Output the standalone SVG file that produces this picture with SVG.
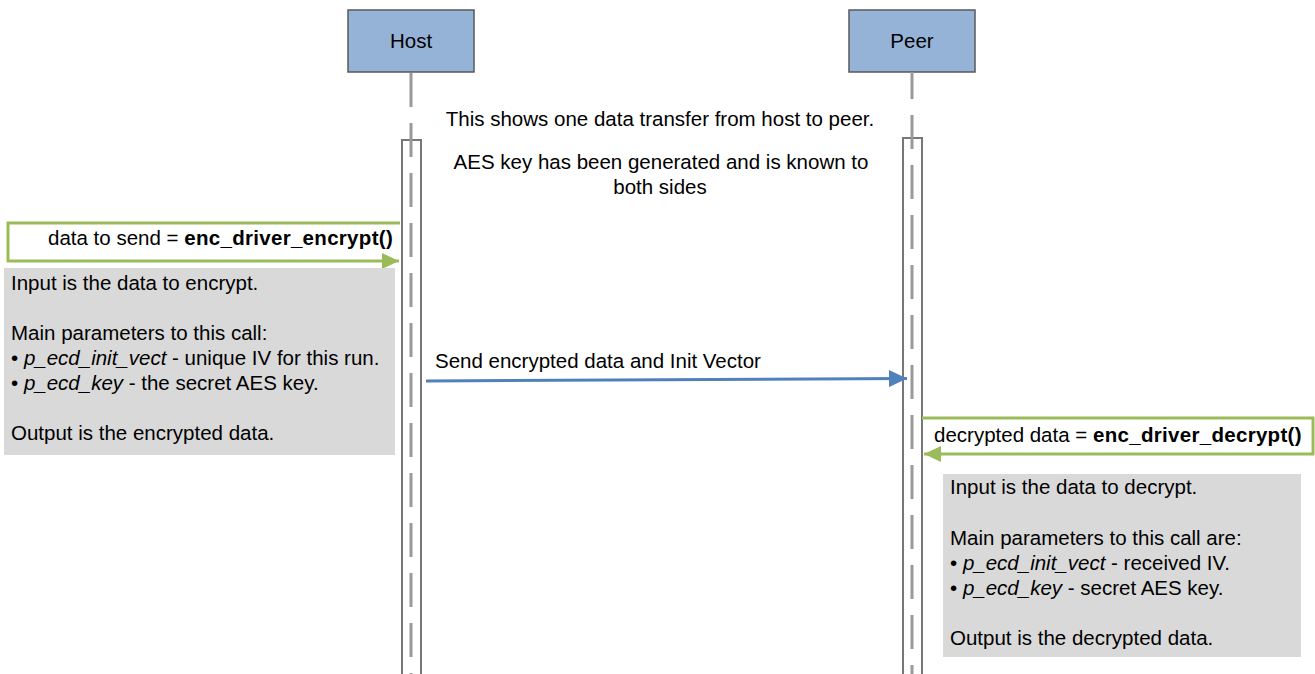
<svg xmlns="http://www.w3.org/2000/svg" width="1315" height="674" viewBox="0 0 1315 674">
<defs>
<style>
text{font-family:"Liberation Sans",Arial,sans-serif;font-size:20.5px;fill:#000}
.actor{fill:#95b3d7;stroke:#595959;stroke-width:1.5}
.life{stroke:#999;stroke-width:3;stroke-dasharray:34 16;fill:none}
.act{fill:none;stroke:#777;stroke-width:2}
.note{fill:#d9d9d9}
.green{fill:none;stroke:#9bbb59;stroke-width:3}
.blue{fill:none;stroke:#4f81bd;stroke-width:3}
.b{font-weight:bold;letter-spacing:0.3px}
.i{font-style:italic}
.mid{text-anchor:middle}
</style>
<marker id="ag" markerUnits="userSpaceOnUse" markerWidth="18" markerHeight="16" refX="17" refY="8" orient="auto"><path d="M0,0 L17,8 L0,16 Z" fill="#9bbb59"/></marker>
<marker id="ab" markerUnits="userSpaceOnUse" markerWidth="19" markerHeight="17" refX="18" refY="8.5" orient="auto"><path d="M0,0 L18,8.5 L0,17 Z" fill="#4f81bd"/></marker>
</defs>
<rect width="1315" height="674" fill="#fff"/>
<g id="host">
<rect class="actor" x="348" y="10" width="126" height="62"/>
<text class="mid" x="411" y="48">Host</text>
<rect class="act" x="402" y="140" width="19" height="540"/>
<line class="life" x1="411" y1="73" x2="411" y2="674"/>
</g>
<g id="peer">
<rect class="actor" x="849" y="10" width="126" height="62"/>
<text class="mid" x="912" y="48">Peer</text>
<rect class="act" x="903" y="138" width="19" height="542"/>
<line class="life" x1="912" y1="72" x2="912" y2="674" stroke-dashoffset="7"/>
</g>
<g id="intro">
<text class="mid" x="660" y="126">This shows one data transfer from host to peer.</text>
<text class="mid" x="661" y="169">AES key has been generated and is known to</text>
<text class="mid" x="660" y="194">both sides</text>
</g>
<g id="connectors">
<path class="green" d="M400,223 H8 V261 H399" marker-end="url(#ag)"/>
<path class="blue" d="M426,381 L907,378.5" marker-end="url(#ab)"/>
<path class="green" d="M922,418 H1313 V454 H924" marker-end="url(#ag)"/>
</g>
<g id="encrypt-call">
<text x="48" y="245">data to send = <tspan class="b">enc_driver_encrypt()</tspan></text>
</g>
<g id="send-label">
<text x="435" y="368">Send encrypted data and Init Vector</text>
</g>
<g id="decrypt-call">
<text x="934" y="442">decrypted data = <tspan class="b">enc_driver_decrypt()</tspan></text>
</g>
<g id="encrypt-note">
<rect class="note" x="4" y="268" width="391" height="187"/>
<text x="11" y="290">Input is the data to encrypt.</text>
<text x="11" y="340">Main parameters to this call:</text>
<text x="11" y="365">• <tspan class="i">p_ecd_init_vect</tspan> - unique IV for this run.</text>
<text x="11" y="390">• <tspan class="i">p_ecd_key</tspan> - the secret AES key.</text>
<text x="11" y="440">Output is the encrypted data.</text>
</g>
<g id="decrypt-note">
<rect class="note" x="943" y="474" width="358" height="183"/>
<text x="950" y="494">Input is the data to decrypt.</text>
<text x="950" y="545">Main parameters to this call are:</text>
<text x="950" y="570">• <tspan class="i">p_ecd_init_vect</tspan> - received IV.</text>
<text x="950" y="595">• <tspan class="i">p_ecd_key</tspan> - secret AES key.</text>
<text x="950" y="645">Output is the decrypted data.</text>
</g>
</svg>
